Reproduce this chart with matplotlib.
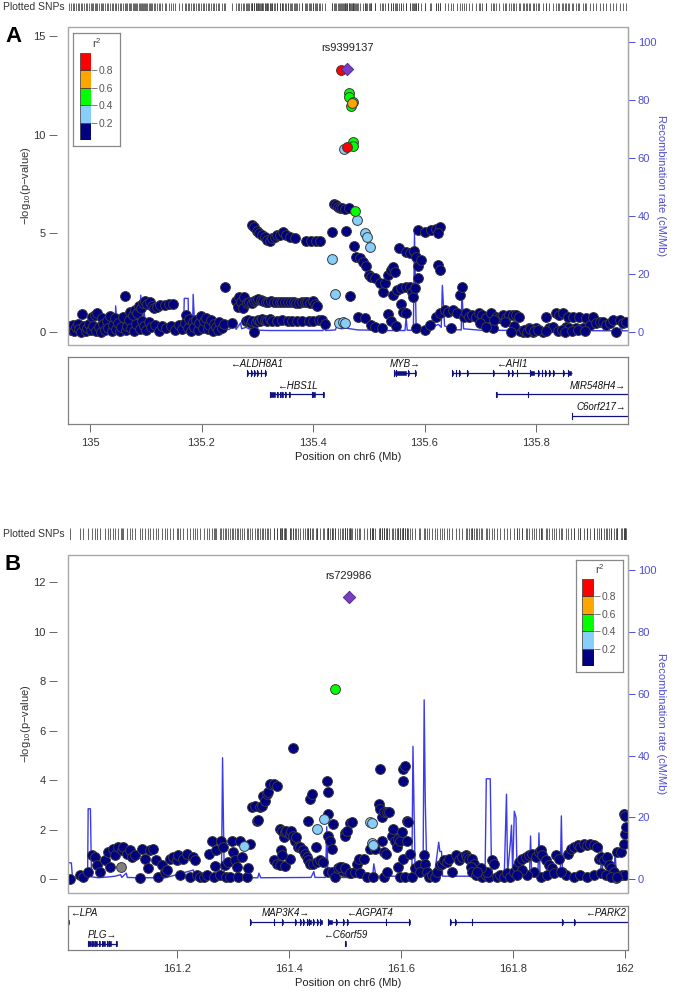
import numpy as np
import matplotlib.pyplot as plt

plt.rcParams['font.family'] = ['Liberation Sans', 'DejaVu Sans']
plt.rcParams['mathtext.default'] = 'regular'

W, H = 677, 993

# LD colour classes (r^2 bins)
ld_breaks = [0.0, 0.2, 0.4, 0.6, 0.8, 1.0]
ld_colors = ['#000080', '#87CEFA', '#00FF00', '#FFA500', '#FF0000']

# ---------------- panel A : chr6 HBS1L-MYB (Mb, -log10 p) ----------------
a_navy = np.array([
    (134.963, 0.30), (134.966, 0.10), (134.969, 0.35), (134.972, 0.05), (134.975, 0.25),
    (134.978, 0.40), (134.981, 0.15), (134.984, 0.00), (134.986, 0.90), (134.989, 0.30),
    (134.992, 0.05), (134.995, 0.20), (134.998, 0.40), (135.001, 0.10), (135.004, 0.75),
    (135.006, 0.30), (135.009, 0.85), (135.011, 0.05), (135.013, 0.95), (135.016, 0.25),
    (135.019, 0.00), (135.021, 0.70), (135.024, 0.40), (135.027, 0.10), (135.030, 0.55),
    (135.033, 0.20), (135.036, 0.80), (135.039, 0.05), (135.041, 0.35), (135.044, 0.70),
    (135.047, 0.15), (135.050, 0.45), (135.053, 0.05), (135.056, 0.25), (135.059, 0.75),
    (135.062, 1.83), (135.064, 0.10), (135.067, 0.30), (135.070, 0.60), (135.072, 1.00),
    (135.074, 0.20), (135.077, 0.85), (135.079, 0.05), (135.081, 1.10), (135.083, 0.40),
    (135.085, 0.95), (135.087, 1.30), (135.089, 0.15), (135.091, 1.20), (135.093, 0.55),
    (135.095, 1.45), (135.097, 0.30), (135.099, 1.55), (135.101, 0.10), (135.103, 1.40),
    (135.106, 0.50), (135.108, 1.50), (135.110, 0.25), (135.112, 1.30), (135.115, 1.20),
    (135.117, 0.35), (135.120, 1.25), (135.123, 0.05), (135.126, 1.35), (135.130, 0.30),
    (135.134, 1.35), (135.137, 0.20), (135.141, 1.40), (135.145, 0.30), (135.149, 1.40),
    (135.153, 0.10), (135.160, 0.35), (135.165, 0.15), (135.170, 0.45), (135.172, 0.85),
    (135.175, 0.20), (135.178, 0.65), (135.181, 0.05), (135.184, 0.50), (135.187, 0.25),
    (135.190, 0.60), (135.193, 0.10), (135.196, 0.45), (135.199, 0.80), (135.202, 0.20),
    (135.205, 0.55), (135.208, 0.70), (135.211, 0.15), (135.214, 0.35), (135.217, 0.60),
    (135.220, 0.05), (135.223, 0.40), (135.226, 0.25), (135.229, 0.10), (135.232, 0.50),
    (135.236, 0.20), (135.240, 0.40), (135.243, 2.25), (135.255, 0.45), (135.262, 1.55),
    (135.265, 1.25), (135.268, 1.75), (135.271, 1.50), (135.274, 1.20), (135.277, 1.75),
    (135.280, 0.55), (135.284, 0.60), (135.288, 0.45), (135.291, 0.55), (135.294, 0.00),
    (135.297, 0.50), (135.301, 0.60), (135.305, 0.55), (135.309, 0.65), (135.313, 0.60),
    (135.318, 0.55), (135.322, 0.65), (135.327, 0.55), (135.336, 0.55), (135.345, 0.60),
    (135.355, 0.55), (135.362, 0.55), (135.372, 0.55), (135.380, 0.55), (135.392, 0.55),
    (135.400, 0.55), (135.410, 0.60), (135.416, 0.60), (135.422, 0.40),
    (135.282, 1.45), (135.286, 1.50), (135.290, 1.45), (135.294, 1.55), (135.298, 1.60),
    (135.302, 1.65), (135.306, 1.60), (135.310, 1.55), (135.315, 1.50), (135.320, 1.50),
    (135.325, 1.55), (135.330, 1.50), (135.335, 1.50), (135.340, 1.50), (135.345, 1.50),
    (135.350, 1.50), (135.355, 1.50), (135.360, 1.50), (135.365, 1.50), (135.370, 1.45),
    (135.375, 1.45), (135.380, 1.50), (135.385, 1.50), (135.390, 1.50), (135.395, 1.45),
    (135.400, 1.55), (135.404, 1.40), (135.407, 1.30),
    (135.291, 5.42), (135.295, 5.30), (135.299, 5.10), (135.304, 5.00), (135.309, 4.90),
    (135.313, 4.83), (135.318, 4.65), (135.322, 4.58), (135.327, 4.75), (135.331, 4.83),
    (135.336, 4.90), (135.340, 4.92), (135.346, 5.08), (135.352, 4.90), (135.358, 4.83),
    (135.367, 4.75), (135.388, 4.63), (135.397, 4.63), (135.406, 4.63), (135.412, 4.63),
    (135.434, 5.05), (135.459, 5.13), (135.438, 6.50), (135.441, 6.42), (135.444, 6.35),
    (135.448, 6.30), (135.452, 6.27), (135.457, 6.25), (135.464, 6.27),
    (135.467, 1.81), (135.474, 4.37), (135.477, 3.81), (135.485, 3.73), (135.489, 3.56),
    (135.495, 3.31), (135.500, 2.88), (135.504, 2.80), (135.512, 2.71), (135.520, 2.46),
    (135.526, 2.03), (135.530, 2.46), (135.535, 2.88), (135.539, 3.14), (135.543, 3.27),
    (135.547, 3.05), (135.543, 1.86), (135.551, 2.12), (135.558, 2.24), (135.566, 2.29),
    (135.574, 2.25), (135.578, 2.03), (135.557, 1.41), (135.562, 1.02), (135.566, 0.93),
    (135.555, 4.24), (135.566, 4.07), (135.574, 3.98), (135.582, 4.12), (135.585, 3.81),
    (135.588, 3.31), (135.589, 2.71), (135.593, 3.64), (135.580, 1.78), (135.583, 2.20),
    (135.589, 5.17), (135.601, 5.08), (135.612, 5.17), (135.620, 5.20), (135.628, 5.34),
    (135.624, 5.00), (135.624, 3.39), (135.628, 3.14),
    (135.481, 0.76), (135.493, 0.68), (135.504, 0.34), (135.512, 0.25), (135.524, 0.17),
    (135.535, 0.90), (135.540, 0.55), (135.548, 0.30), (135.585, 0.17), (135.601, 0.08),
    (135.609, 0.34), (135.620, 0.76), (135.628, 0.93), (135.636, 1.10), (135.643, 1.02),
    (135.647, 0.17), (135.651, 1.10), (135.659, 0.93), (135.670, 0.76), (135.663, 1.86),
    (135.667, 2.29),
    (135.674, 0.93), (135.680, 0.76), (135.686, 0.85), (135.692, 0.76), (135.698, 0.93),
    (135.704, 0.85), (135.710, 0.68), (135.719, 0.93), (135.722, 0.17), (135.728, 0.76),
    (135.734, 0.68), (135.740, 0.85), (135.746, 0.68), (135.752, 0.85), (135.758, 0.85),
    (135.764, 0.85), (135.770, 0.76), (135.776, 0.00), (135.782, 0.08), (135.788, 0.17),
    (135.794, 0.00), (135.800, 0.17), (135.806, 0.08), (135.812, 0.00), (135.818, 0.76),
    (135.824, 0.17), (135.830, 0.25), (135.836, 0.93), (135.842, 0.85), (135.848, 0.93),
    (135.854, 0.25), (135.857, 0.76), (135.860, 0.17), (135.866, 0.76), (135.872, 0.17),
    (135.878, 0.76), (135.884, 0.17), (135.890, 0.68), (135.896, 0.34), (135.902, 0.76),
    (135.908, 0.42), (135.914, 0.51), (135.920, 0.51), (135.926, 0.34), (135.932, 0.42),
    (135.938, 0.59), (135.944, 0.00), (135.950, 0.59), (135.956, 0.42), (135.962, 0.51),
    (135.772, 0.05), (135.778, 0.10), (135.784, 0.00), (135.790, 0.12), (135.797, 0.05),
    (135.803, 0.10), (135.818, 0.05), (135.840, 0.05), (135.846, 0.10), (135.852, 0.00),
    (135.865, 0.05), (135.875, 0.08), (135.888, 0.05), (135.700, 0.45), (135.710, 0.25),
    (135.725, 0.60), (135.745, 0.50), (135.760, 0.30), (135.755, 0.00),
])
a_lightblue = np.array([
    (135.434, 3.71), (135.440, 1.92), (135.447, 0.45), (135.453, 0.50), (135.458, 0.42),
    (135.455, 9.27), (135.479, 5.68), (135.494, 5.00), (135.496, 4.83), (135.502, 4.32),
])
a_green = np.array([
    (135.464, 12.15), (135.465, 11.92), (135.471, 11.69), (135.469, 11.47),
    (135.472, 9.63), (135.471, 9.44), (135.476, 6.14),
])
a_orange = np.array([(135.470, 11.64)])
a_red = np.array([(135.451, 13.27), (135.461, 9.37)])
a_lead = (135.461, 13.36, 'rs9399137')

a_recomb = np.array([
    (134.960, 0.3), (135.045, 0.5), (135.046, 8.9), (135.049, 0.6), (135.070, 0.8),
    (135.090, 1.0), (135.091, 12.6), (135.094, 2.0), (135.097, 7.0), (135.100, 1.0),
    (135.130, 0.8), (135.140, 1.2), (135.168, 1.0), (135.169, 11.5), (135.176, 11.5),
    (135.177, 1.0), (135.184, 1.0), (135.185, 12.9), (135.188, 1.0), (135.200, 0.6),
    (135.250, 0.8), (135.260, 2.5), (135.262, 0.8), (135.270, 3.0), (135.272, 1.0),
    (135.280, 1.5), (135.290, 0.5), (135.300, 1.5), (135.302, 0.5), (135.320, 0.4),
    (135.418, 0.4), (135.420, 4.5), (135.422, 0.4), (135.440, 0.6), (135.445, 3.0),
    (135.450, 1.0), (135.460, 1.2), (135.480, 0.6), (135.520, 0.5), (135.521, 2.5),
    (135.523, 0.4), (135.565, 0.4), (135.567, 5.0), (135.569, 0.5), (135.580, 0.5),
    (135.582, 34.0), (135.585, 1.0), (135.600, 0.6), (135.625, 2.5), (135.630, 1.5),
    (135.632, 16.0), (135.636, 2.0), (135.650, 0.8), (135.666, 0.6), (135.667, 15.5),
    (135.670, 1.0), (135.700, 0.5), (135.800, 0.4), (135.950, 0.3), (135.952, 2.0),
    (135.955, 0.3), (135.970, 0.3),
])

# genes: name, start, end, strand, row, exons
a_genes = [
    ('ALDH8A1', 135.281, 135.316, '-', 0,
     [(135.281, 135.283), (135.289, 135.290), (135.295, 135.296), (135.300, 135.301),
      (135.306, 135.307), (135.313, 135.316)]),
    ('HBS1L', 135.323, 135.420, '-', 1,
     [(135.323, 135.331), (135.336, 135.337), (135.341, 135.342), (135.345, 135.346),
      (135.350, 135.351), (135.357, 135.358), (135.398, 135.404), (135.418, 135.420)]),
    ('MYB', 135.545, 135.585, '+', 0,
     [(135.545, 135.547), (135.549, 135.566), (135.570, 135.572), (135.583, 135.585)]),
    ('AHI1', 135.649, 135.864, '-', 0,
     [(135.649, 135.651), (135.656, 135.657), (135.662, 135.663), (135.676, 135.678),
      (135.722, 135.724), (135.750, 135.751), (135.757, 135.758), (135.765, 135.766),
      (135.789, 135.797), (135.803, 135.805), (135.810, 135.811), (135.816, 135.818),
      (135.823, 135.825), (135.830, 135.832), (135.849, 135.851), (135.858, 135.862)]),
    ('MIR548H4', 135.728, 136.100, '+', 1, [(135.728, 135.730), (135.785, 135.786)]),
    ('C6orf217', 135.864, 136.050, '+', 2, [(135.864, 135.865)]),
]

# ---------------- panel B : chr6 MAP3K4 region ----------------
b_navy = np.array([
    (161.010, 0.00), (161.027, 0.17), (161.033, 0.11), (161.042, 0.31), (161.048, 0.97),
    (161.054, 0.91), (161.057, 0.57), (161.063, 0.31), (161.072, 0.77), (161.078, 1.11),
    (161.081, 0.51), (161.087, 1.24), (161.090, 0.97), (161.096, 1.31), (161.102, 1.17),
    (161.105, 1.31), (161.111, 1.04), (161.117, 1.17), (161.120, 0.91), (161.126, 0.97),
    (161.135, 0.07), (161.138, 1.24), (161.144, 0.84), (161.149, 0.44), (161.152, 1.17),
    (161.158, 1.24), (161.164, 0.77), (161.167, 0.11), (161.173, 0.57), (161.179, 0.31),
    (161.182, 0.37), (161.188, 0.84), (161.194, 0.91), (161.200, 0.77), (161.203, 0.97),
    (161.206, 0.17), (161.212, 0.84), (161.218, 1.04), (161.224, 0.11), (161.230, 0.91),
    (161.233, 0.77), (161.236, 0.17), (161.242, 0.11), (161.248, 0.11), (161.254, 0.17),
    (161.257, 1.04), (161.263, 1.57), (161.266, 0.11), (161.268, 0.53), (161.271, 1.17),
    (161.277, 0.17), (161.280, 1.57), (161.283, 1.31), (161.286, 0.57), (161.289, 0.11),
    (161.292, 0.71), (161.295, 0.11), (161.298, 1.57), (161.301, 1.11), (161.304, 0.77),
    (161.307, 0.51), (161.310, 0.11), (161.313, 1.57), (161.316, 0.91), (161.325, 0.11),
    (161.328, 0.44), (161.331, 1.44),
    (161.334, 2.91), (161.340, 2.97), (161.343, 2.37), (161.346, 2.40), (161.349, 2.91),
    (161.352, 2.97), (161.355, 3.37), (161.358, 3.17), (161.361, 3.44), (161.364, 3.51),
    (161.367, 3.84), (161.373, 3.84), (161.379, 3.77),
    (161.385, 2.04), (161.388, 1.97), (161.391, 1.71), (161.394, 1.91), (161.396, 1.97),
    (161.402, 1.84), (161.405, 1.97), (161.408, 1.77), (161.411, 1.57), (161.414, 1.71),
    (161.417, 1.31), (161.420, 1.31), (161.426, 1.17), (161.429, 1.04), (161.432, 0.91),
    (161.435, 0.77), (161.438, 0.64), (161.444, 0.64), (161.450, 0.71), (161.456, 0.77),
    (161.462, 0.71), (161.373, 0.77), (161.379, 0.64), (161.385, 0.57), (161.394, 0.53),
    (161.402, 0.84), (161.386, 1.17), (161.388, 0.97), (161.408, 5.31),
    (161.435, 2.37), (161.439, 3.24), (161.441, 3.44), (161.449, 1.31), (161.468, 3.97),
    (161.470, 3.53), (161.471, 2.64), (161.471, 1.77), (161.474, 1.57), (161.477, 1.24),
    (161.479, 2.24), (161.471, 0.31), (161.477, 0.31), (161.483, 0.11), (161.489, 0.44),
    (161.495, 0.51), (161.500, 1.86), (161.510, 2.27), (161.497, 0.35), (161.504, 0.30),
    (161.512, 0.25),
    (161.492, 0.51), (161.501, 0.44), (161.501, 1.77), (161.504, 1.97), (161.513, 2.31),
    (161.510, 0.24), (161.519, 0.31), (161.522, 0.64), (161.525, 0.84), (161.528, 0.24),
    (161.534, 0.84), (161.540, 0.11), (161.546, 1.24), (161.551, 0.08), (161.554, 1.24),
    (161.564, 4.44), (161.562, 3.04), (161.564, 2.84), (161.567, 2.51), (161.570, 2.71),
    (161.576, 2.71), (161.579, 2.71), (161.567, 1.57), (161.570, 1.11), (161.573, 1.04),
    (161.570, 0.11), (161.576, 0.31), (161.584, 1.77), (161.587, 2.04), (161.590, 1.57),
    (161.593, 1.31), (161.596, 1.64), (161.596, 0.51), (161.599, 1.57), (161.599, 0.11),
    (161.602, 1.91), (161.605, 3.97), (161.605, 4.44), (161.608, 4.57), (161.605, 0.84),
    (161.608, 0.11), (161.611, 1.57), (161.611, 2.37), (161.614, 2.31), (161.617, 1.04),
    (161.620, 0.11), (161.626, 0.44), (161.632, 0.57), (161.635, 0.31), (161.641, 0.97),
    (161.644, 0.64), (161.647, 0.31), (161.650, 0.11), (161.656, 0.17), (161.662, 0.11),
    (161.665, 0.31), (161.671, 0.57), (161.674, 0.64), (161.677, 0.77), (161.683, 0.71),
    (161.686, 0.84), (161.692, 0.31), (161.698, 0.97), (161.704, 0.77), (161.710, 0.91),
    (161.716, 0.97), (161.719, 0.91), (161.722, 0.84), (161.728, 0.84), (161.731, 0.64),
    (161.725, 0.51), (161.728, 0.31), (161.734, 0.17), (161.740, 0.24), (161.746, 0.11),
    (161.752, 0.17), (161.758, 0.11), (161.763, 0.77), (161.766, 0.64), (161.772, 0.11),
    (161.778, 0.17), (161.784, 0.11), (161.790, 0.24), (161.796, 0.11), (161.802, 0.31),
    (161.808, 0.51), (161.811, 0.71), (161.817, 0.84), (161.823, 0.91), (161.829, 0.97),
    (161.835, 1.04), (161.841, 0.91), (161.847, 1.11), (161.850, 1.17), (161.853, 0.97),
    (161.859, 0.77), (161.865, 0.57), (161.871, 0.44), (161.877, 0.97), (161.883, 0.84),
    (161.889, 0.31), (161.895, 0.17), (161.898, 1.04), (161.904, 1.24), (161.910, 1.31),
    (161.916, 1.37), (161.921, 1.31), (161.927, 1.44), (161.933, 1.37), (161.939, 1.44),
    (161.945, 1.37), (161.951, 1.31), (161.954, 0.84), (161.957, 0.91), (161.963, 0.77),
    (161.969, 0.91), (161.972, 0.57), (161.975, 0.44), (161.981, 0.31), (161.987, 1.11),
    (161.993, 1.11), (161.999, 1.44), (162.001, 1.84), (162.003, 2.11), (161.999, 2.64),
    (162.001, 2.57), (161.995, 0.17), (162.001, 0.17), (161.910, 0.11), (161.921, 0.17),
    (161.933, 0.11), (161.945, 0.17), (161.957, 0.24), (161.966, 0.17), (161.975, 0.11),
    (161.987, 0.11), (161.850, 0.11), (161.862, 0.17), (161.874, 0.24), (161.886, 0.31),
    (161.838, 0.31), (161.826, 0.17), (161.817, 0.37), (161.808, 0.17), (161.755, 0.31),
    (161.743, 0.44), (161.737, 0.31),
])
b_gray = np.array([(161.100, 0.52), (161.985, 0.05)])
b_lightblue = np.array([
    (161.321, 1.33), (161.450, 2.04), (161.464, 2.44), (161.546, 2.33),
    (161.548, 2.26), (161.548, 1.47), (161.550, 1.37),
])
b_green = np.array([(161.482, 7.70)])
b_orange = np.empty((0, 2))
b_red = np.empty((0, 2))
b_lead = (161.507, 11.42, 'rs729986')

b_recomb = np.array([
    (161.000, 5.5), (161.012, 5.3), (161.014, 0.5), (161.030, 0.3), (161.041, 0.5),
    (161.042, 22.8), (161.046, 22.8), (161.048, 0.8), (161.060, 0.5), (161.080, 0.8),
    (161.090, 1.0), (161.100, 1.5), (161.102, 0.6), (161.110, 2.0), (161.112, 0.6),
    (161.130, 0.5), (161.180, 0.5), (161.230, 3.0), (161.232, 0.5), (161.280, 0.5),
    (161.282, 39.3), (161.285, 0.8), (161.300, 0.5), (161.310, 2.5), (161.312, 0.5),
    (161.345, 0.5), (161.347, 2.0), (161.350, 0.5), (161.440, 0.6), (161.445, 2.5),
    (161.447, 0.6), (161.466, 0.6), (161.468, 17.0), (161.470, 2.0), (161.480, 0.6),
    (161.550, 0.6), (161.552, 5.0), (161.556, 1.0), (161.620, 1.0), (161.622, 43.0),
    (161.626, 1.0), (161.640, 1.0), (161.642, 58.0), (161.644, 25.0), (161.647, 1.0),
    (161.660, 1.0), (161.668, 12.0), (161.670, 9.0), (161.673, 9.0), (161.675, 1.0),
    (161.740, 1.0), (161.751, 5.0), (161.753, 32.5), (161.760, 32.5), (161.762, 6.0),
    (161.764, 1.0), (161.785, 1.0), (161.789, 27.5), (161.791, 2.0), (161.796, 12.0),
    (161.798, 17.5), (161.800, 2.0), (161.803, 22.0), (161.806, 20.0), (161.808, 1.0),
    (161.830, 1.0), (161.832, 14.0), (161.834, 1.0), (161.845, 1.0), (161.847, 15.0),
    (161.849, 1.0), (161.885, 1.0), (161.887, 20.5), (161.889, 1.0), (161.957, 1.0),
    (161.959, 11.0), (161.961, 1.0), (161.981, 1.0), (161.983, 9.0), (161.985, 2.0),
    (162.010, 1.0),
])

b_genes = [
    ('LPA', 160.900, 161.007, '-', 0, [(161.006, 161.007)]),
    ('PLG', 161.042, 161.094, '+', 1,
     [(161.042, 161.047), (161.049, 161.052), (161.054, 161.058), (161.062, 161.064),
      (161.066, 161.072), (161.075, 161.077), (161.080, 161.082), (161.092, 161.094)]),
    ('MAP3K4', 161.331, 161.460, '+', 0,
     [(161.331, 161.332), (161.373, 161.374), (161.388, 161.389), (161.412, 161.414),
      (161.420, 161.422), (161.426, 161.428), (161.432, 161.434), (161.437, 161.440),
      (161.444, 161.446), (161.450, 161.452), (161.456, 161.460)]),
    ('AGPAT4', 161.470, 161.617, '-', 0,
     [(161.470, 161.478), (161.485, 161.486), (161.497, 161.498), (161.505, 161.506),
      (161.573, 161.574), (161.615, 161.617)]),
    ('C6orf59', 161.500, 161.502, '-', 1, [(161.500, 161.502)]),
    ('PARK2', 161.688, 162.400, '-', 0,
     [(161.688, 161.690), (161.697, 161.698), (161.727, 161.728), (161.889, 161.890),
      (161.910, 161.911)]),
]

a_xticks = [135.0, 135.2, 135.4, 135.6, 135.8]
a_xticklabels = ['135', '135.2', '135.4', '135.6', '135.8']
b_xticks = [161.2, 161.4, 161.6, 161.8, 162.0]
b_xticklabels = ['161.2', '161.4', '161.6', '161.8', '162']

RECOMB_COL = '#3b3bea'
RECOMB_TXT = '#4d4dd8'
FRAME_COL = '#a8a8a8'


def px_rect(x0, y0, x1, y1):
    return [x0 / W, 1 - y1 / H, (x1 - x0) / W, (y1 - y0) / H]


fig = plt.figure(figsize=(W / 100, H / 100), dpi=100)


def draw_legend(box_px, bar_px):
    axb = fig.add_axes(px_rect(*box_px))
    axb.set_xticks([])
    axb.set_yticks([])
    axb.set_facecolor('white')
    for s in axb.spines.values():
        s.set_color('#888888')
        s.set_linewidth(0.9)
    axb.set_zorder(20)
    top = box_px[1]
    axb.text(0.5, 1 - (bar_px[1] - top) * 0.48 / (box_px[3] - top), 'r$^2$',
             transform=axb.transAxes, ha='center', va='center', fontsize=8, color='#444444')
    axl = fig.add_axes(px_rect(*bar_px))
    axl.set_zorder(21)
    for i, c in enumerate(ld_colors):
        axl.bar(0, ld_breaks[i + 1] - ld_breaks[i], bottom=ld_breaks[i], width=1.0,
                color=c, edgecolor='#333333', linewidth=0.5)
    axl.set_xlim(-0.5, 0.5)
    axl.set_ylim(0, 1)
    axl.set_xticks([])
    axl.yaxis.tick_right()
    axl.set_yticks(ld_breaks[1:-1])
    axl.set_yticklabels(['%.1f' % v for v in ld_breaks[1:-1]])
    axl.tick_params(axis='y', length=4, width=0.6, color='#666666', labelsize=7.5,
                    labelcolor='#555555', pad=1.5)
    for s in axl.spines.values():
        s.set_visible(False)


def draw_panel(letter, groups, lead, recomb, genes, xlim, ylim, yticks, rlim,
               strip_px, main_px, gene_px, xticks, xticklabels, legend_px, bar_px):
    x0, y0, x1, y1 = main_px

    # plotted SNP strip
    all_pos = np.concatenate([g[0][:, 0] for g in groups if len(g[0])] + [[lead[0]]])
    axs = fig.add_axes(px_rect(*strip_px))
    axs.vlines(all_pos, 0, 1, color='#3c3c3c', linewidth=0.55)
    axs.set_xlim(xlim)
    axs.set_ylim(0, 1)
    axs.axis('off')
    axs.text(-0.006, 0.5, 'Plotted SNPs', transform=axs.transAxes, ha='right', va='center',
             fontsize=7.5, color='#333333')

    # recombination (lower layer) and association (upper layer)
    ax = fig.add_axes(px_rect(*main_px))
    axr = ax.twinx()
    ax.set_zorder(axr.get_zorder() + 1)
    ax.patch.set_visible(False)

    axr.plot(recomb[:, 0], recomb[:, 1], color=RECOMB_COL, linewidth=1.0)
    axr.set_ylim(rlim)
    axr.set_xlim(xlim)
    axr.set_yticks([0, 20, 40, 60, 80, 100])
    axr.tick_params(axis='y', length=5, width=0.7, colors=RECOMB_TXT, labelsize=8, pad=2)
    for side in ['top', 'bottom', 'left']:
        axr.spines[side].set_visible(False)
    axr.spines['right'].set_color('#7a7adf')
    axr.spines['right'].set_linewidth(0.8)
    axr.set_ylabel('Recombination rate (cM/Mb)', rotation=270, color=RECOMB_TXT, fontsize=8)
    axr.yaxis.set_label_coords(1 + (666 - x1) / (x1 - x0), 0.5)

    for pts, col in groups:
        if len(pts):
            ax.scatter(pts[:, 0], pts[:, 1], s=50, c=col, edgecolors='#3a3a3a',
                       linewidths=0.7, zorder=3)
    ax.scatter([lead[0]], [lead[1]], marker='D', s=40, c='#7B3CC4', edgecolors='#4b2385',
               linewidths=0.6, zorder=6)
    ax.annotate(lead[2], (lead[0], lead[1]), xytext=(0, 15), textcoords='offset points',
                ha='center', va='center', fontsize=8, color='#222222')

    ax.set_xlim(xlim)
    ax.set_ylim(ylim)
    ax.set_xticks([])
    ax.set_yticks(yticks)
    ax.tick_params(axis='y', length=6, width=0.7, color='#666666', labelsize=8,
                   labelcolor='#333333', pad=2)
    for side in ['top', 'bottom', 'right']:
        ax.spines[side].set_visible(False)
    ax.spines['left'].set_position(('outward', 8))
    ax.spines['left'].set_linewidth(0)
    ax.add_patch(plt.Rectangle((0, 0), 1, 1, transform=ax.transAxes, fill=False,
                               edgecolor=FRAME_COL, linewidth=1.0, clip_on=False, zorder=10))
    ax.set_ylabel('\u2212log$_{10}$(p\u2212value)', fontsize=8, color='#333333')
    ax.yaxis.set_label_coords((33 - x0) / (x1 - x0), 0.5)

    fig.text(5 / W, 1 - (y0 + 9) / H, letter, fontsize=16, fontweight='bold',
             ha='left', va='center')

    draw_legend(legend_px, bar_px)

    # gene track
    gh = gene_px[3] - gene_px[1]
    axg = fig.add_axes(px_rect(*gene_px))
    axg.set_xlim(xlim)
    axg.set_ylim(gh, 0)
    span = xlim[1] - xlim[0]
    for name, start, end, strand, row, exons in genes:
        yl = 16 + 21.5 * row
        axg.plot([max(start, xlim[0]), min(end, xlim[1])], [yl, yl], color='#101080',
                 linewidth=0.9, solid_capstyle='butt', clip_on=True)
        for es, ee in exons:
            if ee < xlim[0] or es > xlim[1]:
                continue
            axg.add_patch(plt.Rectangle((es, yl - 2.3), max(ee - es, 0.0012), 4.6,
                                        facecolor='#101080', edgecolor='#101080',
                                        linewidth=0.4))
            axg.plot([es, es], [yl - 2.6, yl + 2.6], color='#101080', linewidth=0.8)
        label = '\u2190' + name if strand == '-' else name + '\u2192'
        if end > xlim[1]:
            lx, ha = xlim[1] - 0.004 * span, 'right'
        elif start < xlim[0]:
            lx, ha = xlim[0] + 0.004 * span, 'left'
        else:
            lx, ha = (start + end) / 2, 'center'
        axg.text(lx, yl - 8.5, label, ha=ha, va='center', fontsize=7, style='italic',
                 color='#111111')
    axg.set_yticks([])
    axg.set_xticks(xticks)
    axg.set_xticklabels(xticklabels)
    axg.tick_params(axis='x', length=6, width=0.7, color='#666666', labelsize=8,
                    labelcolor='#333333', pad=4)
    for s in axg.spines.values():
        s.set_color('#808080')
        s.set_linewidth(0.9)
    axg.set_xlabel('Position on chr6 (Mb)', fontsize=8, color='#222222', labelpad=3)


draw_panel('A',
           [(a_navy, ld_colors[0]), (a_lightblue, ld_colors[1]), (a_green, ld_colors[2]),
            (a_orange, ld_colors[3]), (a_red, ld_colors[4])],
           a_lead, a_recomb, a_genes,
           xlim=(134.9605, 135.965), ylim=(-0.68, 15.48), yticks=[0, 5, 10, 15],
           rlim=(-4.6, 105.2),
           strip_px=(68, 3, 628, 11), main_px=(68, 27, 628, 345),
           gene_px=(68, 357, 628, 424), xticks=a_xticks, xticklabels=a_xticklabels,
           legend_px=(73, 33, 120, 146), bar_px=(80, 53, 91, 140))

draw_panel('B',
           [(b_gray, '#808080'), (b_navy, ld_colors[0]), (b_lightblue, ld_colors[1]),
            (b_green, ld_colors[2]), (b_orange, ld_colors[3]), (b_red, ld_colors[4])],
           b_lead, b_recomb, b_genes,
           xlim=(161.006, 162.006), ylim=(-0.55, 13.1), yticks=[0, 2, 4, 6, 8, 10, 12],
           rlim=(-4.43, 104.85),
           strip_px=(68, 528, 628, 540), main_px=(68, 555, 628, 893),
           gene_px=(68, 906, 628, 950), xticks=b_xticks, xticklabels=b_xticklabels,
           legend_px=(576, 560, 623, 672), bar_px=(582, 579, 594, 666))

fig.savefig('out.png', dpi=100)
